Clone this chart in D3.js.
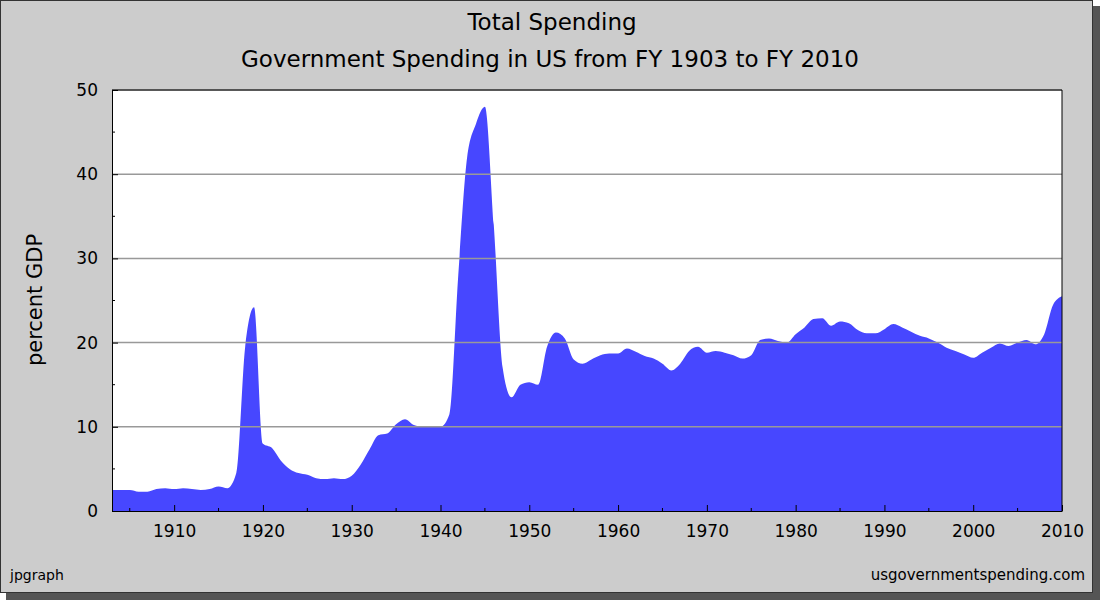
<!DOCTYPE html>
<html>
<head>
<meta charset="utf-8">
<script src="https://cdn.jsdelivr.net/npm/d3@7"></script>
<style>
  body { margin: 0; background: #fff; }
  text { font-family: "DejaVu Sans", sans-serif; }
</style>
</head>
<body>
<svg id="chart" width="1100" height="600"></svg>
<script>
var years = d3.range(1903, 2011);
var spending = [
  2.5, 2.5, 2.5, 2.3, 2.3, 2.6, 2.7,
  2.6, 2.7, 2.6, 2.5, 2.6, 2.9, 2.7, 4.5, 19.5, 24.2,
  8.0, 7.5, 6.0, 5.0, 4.5, 4.3, 3.9, 3.8, 3.9, 3.8,
  4.2, 5.5, 7.3, 9.0, 9.2, 10.3, 10.9, 10.2, 10.0, 10.1,
  10.0, 11.5, 28.0, 42.0, 46.0, 48.0, 34.0, 17.0, 13.5, 15.0,
  15.3, 15.0, 19.5, 21.2, 20.5, 18.0, 17.5, 18.0, 18.5, 18.7,
  18.7, 19.3, 18.9, 18.4, 18.1, 17.5, 16.7, 17.5, 19.0, 19.5,
  18.8, 19.0, 18.8, 18.5, 18.1, 18.5, 20.3, 20.5, 20.2, 20.0,
  21.0, 21.8, 22.8, 22.9, 22.0, 22.5, 22.3, 21.5, 21.1, 21.1,
  21.6, 22.2, 21.8, 21.3, 20.8, 20.5, 20.0, 19.4, 19.0, 18.6,
  18.2, 18.8, 19.4, 19.9, 19.6, 20.0, 20.3, 19.8, 21.0, 24.5,
  25.5
];
var xTicks = [1910, 1920, 1930, 1940, 1950, 1960, 1970, 1980, 1990, 2000, 2010];
var yTicks = [0, 10, 20, 30, 40, 50];

var svg = d3.select("#chart");

// frame with shadow
svg.append("rect").attr("x", 6).attr("y", 6).attr("width", 1094).attr("height", 594).attr("fill", "#555");
svg.append("rect").attr("x", 0.5).attr("y", 0.5).attr("width", 1092).attr("height", 592)
   .attr("fill", "#cccccc").attr("stroke", "#333");

var pLeft = 112, pRight = 1062, pTop = 90, pBottom = 511;
var x = d3.scaleLinear().domain([1903, 2010]).range([pLeft, pRight]);
var y = d3.scaleLinear().domain([0, 50]).range([pBottom, pTop]);

svg.append("rect").attr("x", pLeft).attr("y", pTop).attr("width", pRight - pLeft).attr("height", pBottom - pTop)
   .attr("fill", "#fff");

var area = d3.area()
  .curve(d3.curveMonotoneX)
  .x(function(d, i) { return x(years[i]); })
  .y0(y(0))
  .y1(function(d) { return y(d); });

svg.append("path").datum(spending).attr("d", area).attr("fill", "#4747ff");

// grid lines
svg.selectAll(".grid").data(yTicks.slice(1)).enter().append("line")
   .attr("x1", pLeft).attr("x2", pRight)
   .attr("y1", function(d) { return y(d); }).attr("y2", function(d) { return y(d); })
   .attr("stroke", "#999").attr("stroke-width", 1.5);

var xAxis = svg.append("g").attr("transform", "translate(0," + pBottom + ")")
  .call(d3.axisBottom(x).tickValues(xTicks).tickFormat(d3.format("d")).tickSizeInner(-6).tickSizeOuter(0).tickPadding(14));
var yAxis = svg.append("g").attr("transform", "translate(" + pLeft + ",0)")
  .call(d3.axisLeft(y).tickValues(yTicks).tickSizeInner(-6).tickSizeOuter(0).tickPadding(14));

// minor ticks
xAxis.selectAll(".minor").data(d3.range(1905, 2010, 5).filter(function(d) { return d % 10; })).enter()
  .append("line").attr("x1", function(d) { return x(d); }).attr("x2", function(d) { return x(d); })
  .attr("y1", 0).attr("y2", -3).attr("stroke", "#000");
yAxis.selectAll(".minor").data(d3.range(5, 50, 10)).enter()
  .append("line").attr("y1", function(d) { return y(d); }).attr("y2", function(d) { return y(d); })
  .attr("x1", 0).attr("x2", 3).attr("stroke", "#000");

[xAxis, yAxis].forEach(function(a) {
  a.selectAll("text").attr("font-size", 17).attr("fill", "#000").attr("font-family", "DejaVu Sans, sans-serif");
  a.select(".domain").attr("stroke", "#000");
});

svg.append("line").attr("x1", pRight).attr("x2", pRight).attr("y1", pTop).attr("y2", pBottom).attr("stroke", "#000");
svg.append("line").attr("x1", pLeft).attr("x2", pRight).attr("y1", pTop).attr("y2", pTop).attr("stroke", "#000");

svg.append("text").attr("x", 552).attr("y", 30).attr("text-anchor", "middle").attr("font-size", 23).text("Total Spending");
svg.append("text").attr("x", 550).attr("y", 67).attr("text-anchor", "middle").attr("font-size", 23)
   .text("Government Spending in US from FY 1903 to FY 2010");
svg.append("text").attr("transform", "translate(42,300) rotate(-90)").attr("text-anchor", "middle")
   .attr("font-size", 21).text("percent GDP");
svg.append("text").attr("x", 10).attr("y", 580).attr("font-size", 14).text("jpgraph");
svg.append("text").attr("x", 1085).attr("y", 580).attr("text-anchor", "end").attr("font-size", 15).text("usgovernmentspending.com");
</script>
</body>
</html>
